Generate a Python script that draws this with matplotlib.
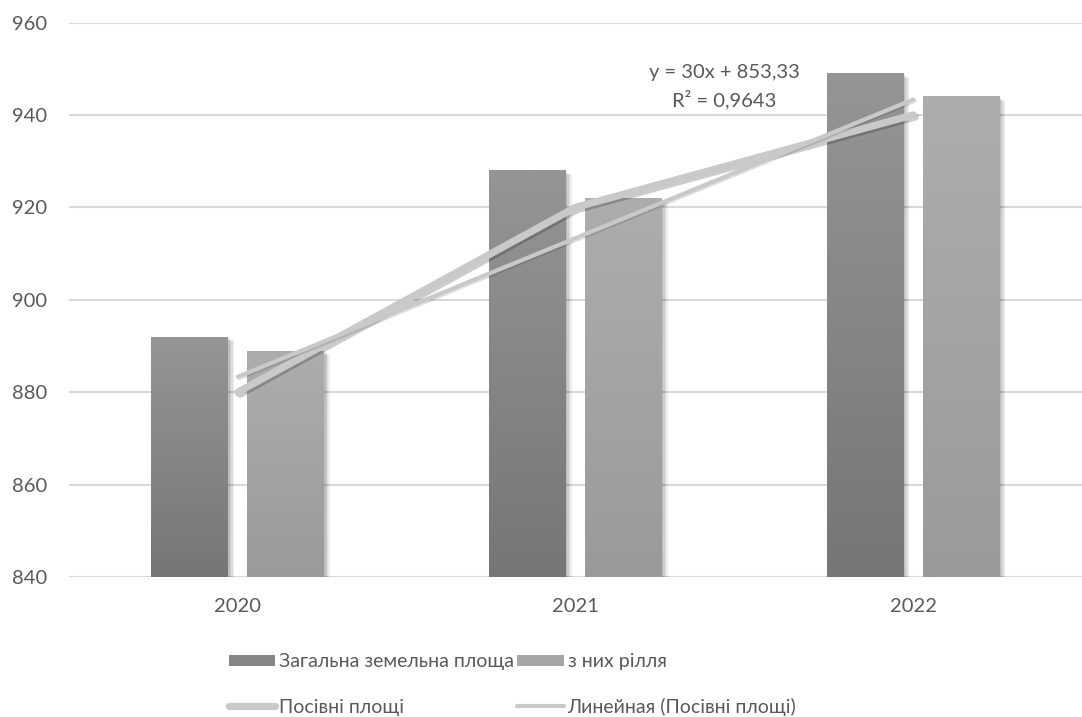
import numpy as np
import matplotlib
matplotlib.use('Agg')
import matplotlib.pyplot as plt
from matplotlib import patheffects as pe
from matplotlib.patches import Patch
from matplotlib.lines import Line2D

plt.rcParams['font.family'] = ['Lato', 'DejaVu Sans']

years = ['2020', '2021', '2022']
total_area = [892, 928, 949]      # Загальна земельна площа
arable = [889, 922, 944]          # з них рілля
sown = [880, 920, 940]            # Посівні площі

series_names = ['Загальна земельна площа', 'з них рілля', 'Посівні площі',
                'Линейная (Посівні площі)']

text_col = '#595959'
grid_col = '#d9d9d9'
line_col = '#c9c9c9'
y_min, y_max = 840, 960

fig = plt.figure(figsize=(10.82, 7.17), dpi=100)
ax = fig.add_axes([0.0638, 0.1953, 0.9362, 0.7733])

x = np.arange(len(years))
w = 0.228
off = 0.142

def gradient_bars(bars, top_col, bot_col):
    # fill each bar with a vertical gradient, clipped to the bar shape
    c_top = np.array(matplotlib.colors.to_rgb(top_col))
    c_bot = np.array(matplotlib.colors.to_rgb(bot_col))
    t = np.linspace(0, 1, 256)[:, None]
    grad = (c_top * (1 - t) + c_bot * t)[:, None, :]
    for b in bars:
        x0, y0 = b.get_x(), b.get_y()
        im = ax.imshow(grad, extent=(x0, x0 + b.get_width(), y0, y0 + b.get_height()),
                       origin='upper', aspect='auto', zorder=b.get_zorder() + 0.1,
                       interpolation='bilinear')
        im.set_clip_path(b)

# soft shadow: several faint offset copies
shadow = [pe.SimplePatchShadow(offset=(d, -d * 0.8), shadow_rgbFace='#000000', alpha=0.07)
          for d in (1, 2, 3, 4)] + [pe.Normal()]

bars1 = ax.bar(x - off, np.array(total_area) - y_min, w, bottom=y_min,
               color='#868686', zorder=2, path_effects=shadow)
bars2 = ax.bar(x + off, np.array(arable) - y_min, w, bottom=y_min,
               color='#a3a3a3', zorder=2, path_effects=shadow)
gradient_bars(bars1, '#959595', '#767676')
gradient_bars(bars2, '#adadad', '#9a9a9a')

ax.plot(x, sown, color=line_col, lw=5.2, solid_capstyle='round', zorder=4,
        path_effects=[pe.SimpleLineShadow(offset=(1.5, -1.5), alpha=0.2), pe.Normal()])

# linear trend of the sown area
k, b0 = np.polyfit(x + 1, sown, 1)
fit = k * (x + 1) + b0
r2 = 1 - np.sum((np.array(sown) - fit) ** 2) / np.sum((np.array(sown) - np.mean(sown)) ** 2)
ax.plot(x, fit, color=line_col, lw=3, solid_capstyle='round', zorder=5,
        path_effects=[pe.SimpleLineShadow(offset=(1, -1), alpha=0.12), pe.Normal()])

eq = f'y = {k:.0f}x + {b0:.2f}'.replace('.', ',')
rs = f'R² = {r2:.4f}'.replace('.', ',')
ax.text(1.44, 946.1, eq + '\n' + rs, ha='center', va='center', fontsize=14.5,
        color=text_col, linespacing=1.5, zorder=6)

ax.set_xlim(-0.5, 2.5)
ax.set_ylim(y_min, y_max)
ax.set_yticks(np.arange(840, 961, 20))
ax.set_xticks(x)
ax.set_xticklabels(years)
ax.grid(axis='y', color=grid_col, lw=1.5, zorder=0)
ax.set_axisbelow(True)
for s in ax.spines.values():
    s.set_visible(False)
ax.tick_params(axis='both', length=0, labelsize=14.5, colors=text_col)
ax.tick_params(axis='y', pad=16)
ax.tick_params(axis='x', pad=15)

# legend, two rows
h1 = [Patch(facecolor='#868686', edgecolor='none'),
      Patch(facecolor='#a6a6a6', edgecolor='none')]
fig.legend(h1, series_names[:2], loc='center left', bbox_to_anchor=(0.2113, 0.077),
           ncol=2, frameon=False, fontsize=14, handlelength=2.4, handleheight=0.5,
           handletextpad=0.2, columnspacing=0.15, labelcolor=text_col,
           borderpad=0, borderaxespad=0)
h2 = [Line2D([0], [0], color=line_col, lw=5.2, solid_capstyle='round'),
      Line2D([0], [0], color=line_col, lw=3, solid_capstyle='round')]
fig.legend(h2, series_names[2:], loc='center left', bbox_to_anchor=(0.2113, 0.014),
           ncol=2, frameon=False, fontsize=14, handlelength=2.4,
           handletextpad=0.2, columnspacing=5.8, labelcolor=text_col,
           borderpad=0, borderaxespad=0)

fig.savefig('out.png', dpi=100)
